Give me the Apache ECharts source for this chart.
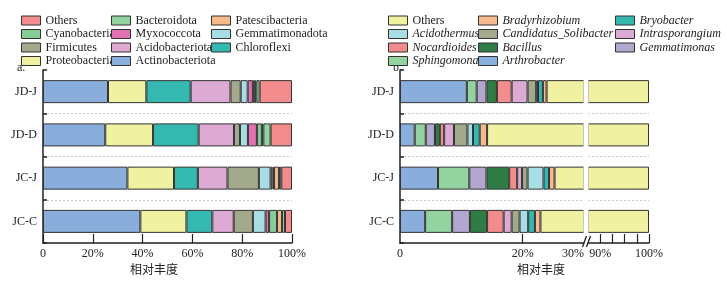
<!DOCTYPE html>
<html>
<head>
<meta charset="utf-8">
<script src="https://cdn.jsdelivr.net/npm/echarts@6/dist/echarts.min.js"></script>
<style>
  html, body { margin: 0; padding: 0; background: #fff; }
  #chart { width: 727px; height: 282px; }
</style>
</head>
<body>
<div id="chart"></div>
<script>
const categories = ['JD-J', 'JD-D', 'JC-J', 'JC-C'];

// a. phyla (%)
const actinobacteriota = [26.1, 25.0, 33.9, 39.1];
const proteobacteria = [15.4, 19.2, 18.7, 18.5];
const chloroflexi = [17.8, 18.3, 9.6, 10.4];
const acidobacteriota = [16.0, 14.2, 11.9, 8.6];
const firmicutes = [4.1, 2.4, 12.6, 7.7];
const gemmatimonadota = [2.8, 3.2, 4.7, 5.1];
const myxococcota = [2.1, 3.6, 0.8, 1.4];
const cyanobacteria = [0.9, 2.0, 0.6, 3.2];
const patescibacteria = [0.5, 0.6, 2.0, 2.0];
const bacteroidota = [1.3, 2.9, 0.9, 1.2];
const othersPhylum = [13.0, 8.6, 4.3, 2.8];

// b. genera (%)
const arthrobacter = [10.9, 2.4, 6.2, 4.1];
const sphingomonas = [1.6, 1.8, 5.1, 4.4];
const gemmatimonas = [1.6, 1.5, 2.8, 2.9];
const bacillus = [1.7, 0.8, 3.7, 2.8];
const nocardioides = [2.4, 0.7, 1.3, 2.7];
const intrasporangium = [2.6, 1.6, 0.8, 1.3];
const solibacter = [1.4, 2.2, 0.9, 1.3];
const acidothermus = [0.3, 0.9, 2.6, 1.4];
const bryobacter = [0.8, 1.1, 0.9, 1.1];
const bradyrhizobium = [0.6, 1.2, 0.9, 0.9];
const othersGenus = [76.1, 85.8, 74.8, 77.1];

const leftTicks = [0, 20, 40, 60, 80, 100];
const rightTicksA = [0, 20, 30];
const rightTicksB = [90, 100];

const phyla = [
  ['Actinobacteriota', actinobacteriota, '#8aaedc'],
  ['Proteobacteria', proteobacteria, '#f1f1a2'],
  ['Chloroflexi', chloroflexi, '#35b8b0'],
  ['Acidobacteriota', acidobacteriota, '#dcaad2'],
  ['Firmicutes', firmicutes, '#a3aa8b'],
  ['Gemmatimonadota', gemmatimonadota, '#a9dde6'],
  ['Myxococcota', myxococcota, '#e071b2'],
  ['Cyanobacteria', cyanobacteria, '#86cc96'],
  ['Patescibacteria', patescibacteria, '#f8b98c'],
  ['Bacteroidota', bacteroidota, '#92d3a0'],
  ['Others', othersPhylum, '#f38c8c']
];

const genera = [
  ['Arthrobacter', arthrobacter, '#8aaedc'],
  ['Sphingomonas', sphingomonas, '#92d3a0'],
  ['Gemmatimonas', gemmatimonas, '#b3a6cf'],
  ['Bacillus', bacillus, '#2f7d45'],
  ['Nocardioides', nocardioides, '#f38c8c'],
  ['Intrasporangium', intrasporangium, '#dcaad2'],
  ['Candidatus_Solibacter', solibacter, '#a3aa8b'],
  ['Acidothermus', acidothermus, '#a9dde6'],
  ['Bryobacter', bryobacter, '#35b8b0'],
  ['Bradyrhizobium', bradyrhizobium, '#f8b98c'],
  ['Others', othersGenus, '#f1f1a2']
];

const serif = 'Liberation Serif';
const axisColor = '#222';

function pct(v) {
  return v === 0 ? '0' : v + '%';
}

function catAxis(gridIndex, showLabel) {
  return {
    type: 'category',
    gridIndex: gridIndex,
    data: categories,
    inverse: true,
    axisLine: { show: showLabel, lineStyle: { color: axisColor, width: 1.5 } },
    axisTick: { show: showLabel, inside: true, length: 4, lineStyle: { color: axisColor, width: 1.5 } },
    axisLabel: { show: showLabel, fontFamily: serif, fontSize: 12, color: '#222', margin: 6 },
    splitLine: {
      show: true, showMinLine: false, showMaxLine: false,
      lineStyle: { color: '#c8c8c8', type: [2, 2], width: 1 }
    }
  };
}

function valAxis(gridIndex, min, max, ticks, labels) {
  return {
    type: 'value',
    gridIndex: gridIndex,
    min: min,
    max: max,
    axisLine: { show: true, lineStyle: { color: axisColor, width: 1.5 } },
    axisTick: { show: true, inside: true, length: 9, customValues: ticks, lineStyle: { color: axisColor, width: 1.2 } },
    axisLabel: { customValues: labels, formatter: pct, fontFamily: serif, fontSize: 12, color: '#222', margin: 5 },
    splitLine: { show: false }
  };
}

const series = [];
function addSeries(list, xi, yi, stack) {
  list.forEach(function (d) {
    series.push({
      name: d[0],
      type: 'bar',
      stack: stack,
      xAxisIndex: xi,
      yAxisIndex: yi,
      data: d[1],
      barWidth: 23,
      clip: true,
      itemStyle: { color: d[2], borderColor: '#333', borderWidth: 1 },
      emphasis: { disabled: true }
    });
  });
}
addSeries(phyla, 0, 0, 'a');
addSeries(genera, 1, 1, 'b');
addSeries(genera, 2, 2, 'c');

function legend(left, names, italic, othersColor) {
  return {
    orient: 'vertical',
    left: left,
    top: 9,
    icon: 'rect',
    itemWidth: 19,
    itemHeight: 9,
    itemGap: 0.5,
    selectedMode: false,
    itemStyle: { borderColor: '#333', borderWidth: 1 },
    data: names.map(function (n) {
      return othersColor && n === 'Others' ? { name: n, itemStyle: { color: othersColor } } : n;
    }),
    formatter: italic ? function (n) { return n === 'Others' ? n : '{i|' + n + '}'; } : '{name}',
    textStyle: {
      fontFamily: serif, fontSize: 12, color: '#222', lineHeight: 13,
      rich: { i: { fontStyle: 'italic', fontFamily: serif, fontSize: 12, color: '#222' } }
    }
  };
}

const chart = echarts.init(document.getElementById('chart'));

const rightA = valAxis(1, 0, 30, [20], rightTicksA);
rightA.axisLabel.alignMaxLabel = 'right';

const option = {
  animation: false,
  backgroundColor: '#fff',
  legend: [
    legend(16, ['Others', 'Cyanobacteria', 'Firmicutes', 'Proteobacteria'], false),
    legend(106, ['Bacteroidota', 'Myxococcota', 'Acidobacteriota', 'Actinobacteriota'], false),
    legend(206, ['Patescibacteria', 'Gemmatimonadota', 'Chloroflexi'], false),
    legend(383, ['Others', 'Acidothermus', 'Nocardioides', 'Sphingomonas'], true, '#f1f1a2'),
    legend(473, ['Bradyrhizobium', 'Candidatus_Solibacter', 'Bacillus', 'Arthrobacter'], true),
    legend(610, ['Bryobacter', 'Intrasporangium', 'Gemmatimonas'], true)
  ],
  grid: [
    { left: 43, top: 70, width: 249, height: 173 },
    { left: 400, top: 70, width: 184, height: 173 },
    { left: 588, top: 70, width: 61, height: 173 }
  ],
  xAxis: [
    valAxis(0, 0, 100, leftTicks, leftTicks),
    rightA,
    valAxis(2, 87.5, 100, [90, 92.5, 95, 97.5, 100], rightTicksB)
  ],
  yAxis: [catAxis(0, true), catAxis(1, true), catAxis(2, false)],
  series: series,
  graphic: [
    { type: 'text', left: 17, top: 62, style: { text: 'a.', font: '12px "Liberation Serif"', fill: '#222' } },
    { type: 'text', left: 393, top: 62, style: { text: 'b.', font: '12px "Liberation Serif"', fill: '#222' } },
    { type: 'text', left: 130, top: 263, style: { text: '相对丰度', font: '12px "Noto Sans CJK SC"', fill: '#222' } },
    { type: 'text', left: 517, top: 263, style: { text: '相对丰度', font: '12px "Noto Sans CJK SC"', fill: '#222' } },
    { type: 'rect', z: 100, shape: { x: 583.5, y: 75, width: 5, height: 163 }, style: { fill: '#fff' } },
    { type: 'line', z: 101, shape: { x1: 582.5, y1: 247, x2: 586.5, y2: 236 }, style: { stroke: '#222', lineWidth: 1.3 } },
    { type: 'line', z: 101, shape: { x1: 586.5, y1: 247, x2: 590.5, y2: 236 }, style: { stroke: '#222', lineWidth: 1.3 } }
  ]
};

chart.setOption(option);
window.addEventListener('resize', function () {
  chart.resize();
});
</script>
</body>
</html>
